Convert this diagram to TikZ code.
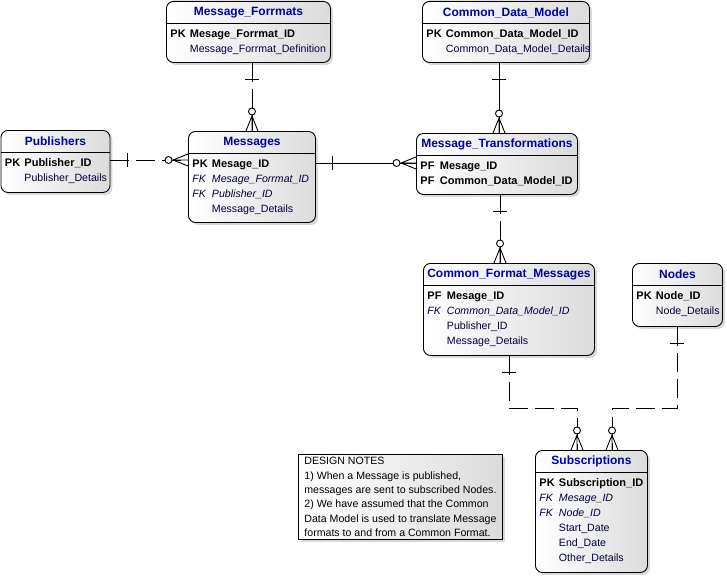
\documentclass[tikz,border=0pt]{standalone}
\usepackage{fontspec}
\setmainfont{Liberation Sans}
\usetikzlibrary{calc,shadows}
\newcommand{\headcolor}{blue!65!black}
\newcommand{\fieldcolor}{blue!25!black}
\newcommand{\boxshade}{gray!28}
\newcommand{\bodyfont}{\fontsize{10.6}{15}\selectfont}
\newcommand{\keyfont}{\fontsize{11}{15}\selectfont\bfseries}

% one table of the model: name, left, top, width, height, title, rows
\newcommand{\entity}[7]{%
  \node[entity, minimum width=#4pt, minimum height=#5pt] (#1) at (#2,#3) {};
  \draw ($(#1.north west)+(0,22)$) -- ($(#1.north east)+(0,22)$);
  \node[header] (#1-head) at ($(#1.north)+(0,11.5)$) {#6};
  \node[fields] (#1-rows) at ($(#1.north west)+(4,26)$)
    {\begin{tabular}{@{}l@{}}#7\end{tabular}};
}
\newcommand{\tag}[1]{\makebox[19.5pt][l]{#1}}
\newcommand{\keyrow}[2]{{\color{black}\keyfont\tag{#1}#2}\\}
\newcommand{\fkrow}[1]{\tag{\textit{FK}}\textit{#1}\\}
\newcommand{\fieldrow}[1]{\tag{}#1\\}

\begin{document}
\begin{tikzpicture}[x=1pt, y=-1pt, line width=0.9pt,
    entity/.style={draw, rounded corners=7pt, left color=white,
      right color=\boxshade, inner sep=0pt, anchor=north west,
      drop shadow={shadow xshift=2.5pt, shadow yshift=-2.5pt, fill=gray!60}},
    header/.style={font=\fontsize{12}{14}\selectfont\bfseries,
      text=\headcolor, inner sep=0pt},
    fields/.style={font=\bodyfont, text=\fieldcolor, inner sep=0pt,
      anchor=north west},
    notebox/.style={draw, left color=white, right color=\boxshade,
      drop shadow={shadow xshift=2.5pt, shadow yshift=-2.5pt, fill=gray!60},
      font=\fontsize{10.6}{14.3}\selectfont, align=left, inner sep=3pt,
      anchor=north west},
    nonident/.style={dash pattern=on 19pt off 7pt},
    one/.pic={\draw (-7,17) -- (7,17);},
    many/.pic={\draw (-6,0) -- (0,15) -- (6,0) (0,0) -- (0,15);
      \draw[fill=white] (0,19.5) circle (3.5);}]

\fill[white] (0,0) rectangle (727,578);
\useasboundingbox (0,0) rectangle (727,578);

% tables
\entity{fmt}{166}{1}{164}{61}{Message\_Forrmats}{%
  \keyrow{PK}{Mesage\_Forrmat\_ID}\fieldrow{Message\_Forrmat\_Definition}}
\entity{cdm}{422}{1}{167}{61}{Common\_Data\_Model}{%
  \keyrow{PK}{Common\_Data\_Model\_ID}\fieldrow{Common\_Data\_Model\_Details}}
\entity{pub}{0.5}{130}{109}{62}{Publishers}{%
  \keyrow{PK}{Publisher\_ID}\fieldrow{Publisher\_Details}}
\entity{msg}{188}{131}{127}{91}{Messages}{%
  \keyrow{PK}{Mesage\_ID}\fkrow{Mesage\_Forrmat\_ID}%
  \fkrow{Publisher\_ID}\fieldrow{Message\_Details}}
\entity{mtr}{416}{133}{161}{61}{Message\_Transformations}{%
  \keyrow{PF}{Mesage\_ID}\keyrow{PF}{Common\_Data\_Model\_ID}}
\entity{cfm}{423}{263}{171}{92}{Common\_Format\_Messages}{%
  \keyrow{PF}{Mesage\_ID}\fkrow{Common\_Data\_Model\_ID}%
  \fieldrow{Publisher\_ID}\fieldrow{Message\_Details}}
\entity{nod}{632}{263}{90}{63}{Nodes}{%
  \keyrow{PK}{Node\_ID}\fieldrow{Node\_Details}}
\entity{sub}{535}{450}{112}{122}{Subscriptions}{%
  \keyrow{PK}{Subscription\_ID}\fkrow{Mesage\_ID}\fkrow{Node\_ID}%
  \fieldrow{Start\_Date}\fieldrow{End\_Date}\fieldrow{Other\_Details}}

% design notes
\node[notebox, minimum width=204pt, minimum height=85pt] (note) at (298,454)
  {DESIGN NOTES\\
   1) When a Message is published,\\
   messages are sent to subscribed Nodes.\\
   2) We have assumed that the Common\\
   Data Model is used to translate Message\\
   formats to and from a Common Format.};

% formats to messages
\coordinate (fmt-out) at (fmt.south -| msg.north);
\draw[nonident] (fmt-out) -- (msg.north);
\pic at (fmt-out) {one};
\pic[rotate=180] at (msg.north) {many};

% publishers to messages
\coordinate (pub-out) at ($(pub.north east)+(0,30)$);
\coordinate (msg-in) at (msg.west |- pub-out);
\draw[nonident] (pub-out) -- (msg-in);
\pic[rotate=90] at (pub-out) {one};
\pic[rotate=-90] at (msg-in) {many};

% messages to transformations
\coordinate (msg-out) at ($(msg.north east)+(0,32)$);
\coordinate (mtr-in) at (mtr.west |- msg-out);
\draw (msg-out) -- (mtr-in);
\pic[rotate=90] at (msg-out) {one};
\pic[rotate=-90] at (mtr-in) {many};

% data model to transformations
\coordinate (mtr-top) at ($(mtr.north west)+(83,0)$);
\coordinate (cdm-out) at (cdm.south -| mtr-top);
\draw (cdm-out) -- (mtr-top);
\pic at (cdm-out) {one};
\pic[rotate=180] at (mtr-top) {many};

% transformations to common format
\coordinate (cfm-top) at ($(cfm.north west)+(77,0)$);
\coordinate (mtr-out) at (mtr.south -| cfm-top);
\draw[nonident] (mtr-out) -- (cfm-top);
\pic at (mtr-out) {one};
\pic[rotate=180] at (cfm-top) {many};

% subscriptions
\coordinate (sub-in1) at ($(sub.north west)+(42,0)$);
\coordinate (sub-in2) at ($(sub.north west)+(77,0)$);
\draw[nonident] (cfm.south) |- ($(sub-in1)+(0,-42)$) -- (sub-in1);
\draw[nonident] (nod.south) |- ($(sub-in2)+(0,-42)$) -- (sub-in2);
\pic at (cfm.south) {one};
\pic at (nod.south) {one};
\pic[rotate=180] at (sub-in1) {many};
\pic[rotate=180] at (sub-in2) {many};

\end{tikzpicture}
\end{document}
